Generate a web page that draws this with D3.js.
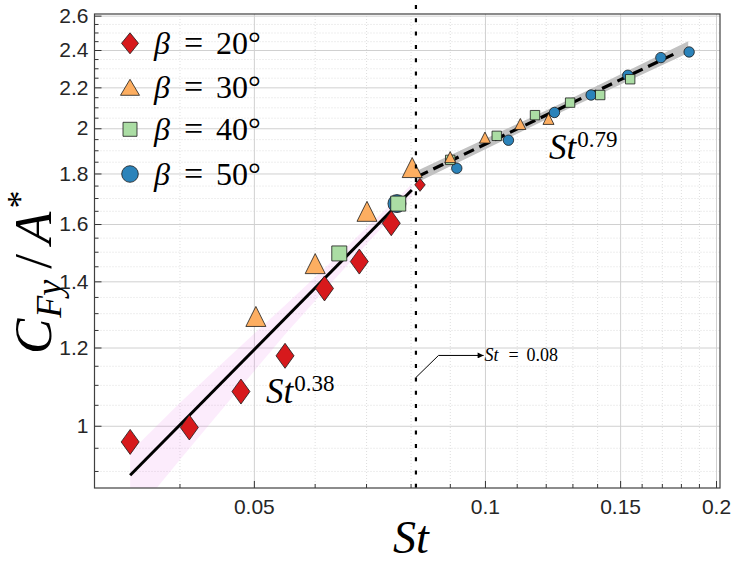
<!DOCTYPE html>
<html>
<head>
<meta charset="utf-8">
<script src="https://cdn.jsdelivr.net/npm/d3@7"></script>
<style>
  html, body { margin: 0; padding: 0; background: #fff; }
  svg { display: block; }
</style>
</head>
<body>
<svg id="chart" width="739" height="564"></svg>
<script>
// ---------------- data ----------------
const st20 = [0.0345, 0.0412, 0.0481, 0.0549, 0.0618, 0.0686, 0.0755, 0.0823];
const cf20 = [0.963, 0.996, 1.083, 1.177, 1.377, 1.466, 1.603, 1.753];
const st30 = [0.0503, 0.0601, 0.0702, 0.0804, 0.0901, 0.1000, 0.1112, 0.1210];
const cf30 = [1.290, 1.459, 1.648, 1.825, 1.870, 1.957, 2.020, 2.044];
const st40 = [0.0646, 0.0771, 0.0901, 0.1036, 0.1162, 0.1291, 0.1413, 0.1546];
const cf40 = [1.494, 1.678, 1.858, 1.965, 2.062, 2.123, 2.161, 2.242];
const st50 = [0.0768, 0.0919, 0.1073, 0.1232, 0.1375, 0.1535, 0.1695, 0.1845];
const cf50 = [1.678, 1.822, 1.945, 2.075, 2.161, 2.263, 2.358, 2.389];

const betaValues = ["20°", "30°", "40°", "50°"];

// fitted power laws (end points) and their confidence bands
const fitLowSt = [0.0345, 0.0803];
const fitLowCf = [0.891, 1.732];
const fitHighSt = [0.0818, 0.1769];
const fitHighCf = [1.788, 2.380];

const bandLowSt = [0.0345, 0.040, 0.047, 0.055, 0.063, 0.071, 0.0803];
const bandLowLo = [0.802, 0.923, 1.072, 1.239, 1.394, 1.543, 1.707];
const bandLowHi = [0.940, 1.054, 1.185, 1.326, 1.464, 1.602, 1.755];
const bandHighSt = [0.0812, 0.125, 0.184];
const bandHighLo = [1.759, 2.072, 2.383];
const bandHighHi = [1.808, 2.115, 2.450];

const stCrit = 0.0813;
const annotSt = [0.0813, 0.0870, 0.0996];
const annotCf = [1.119, 1.178, 1.178];

const xDomain = [0.031, 0.2024];
const yDomain = [0.865, 2.61];
const xMajor = [0.05, 0.1, 0.15, 0.2];
const xMajorLabels = ["0.05", "0.1", "0.15", "0.2"];
const xMinor = [0.04, 0.06, 0.07, 0.08, 0.09, 0.11, 0.12, 0.13, 0.14, 0.16, 0.17, 0.18, 0.19];
const yMajor = [1, 1.2, 1.4, 1.6, 1.8, 2, 2.2, 2.4, 2.6];
const yMajorLabels = ["1", "1.2", "1.4", "1.6", "1.8", "2", "2.2", "2.4", "2.6"];
const yMinor = [0.9, 0.95, 1.05, 1.1, 1.15, 1.25, 1.3, 1.35, 1.45, 1.5, 1.55, 1.65, 1.7, 1.75,
                1.85, 1.9, 1.95, 2.05, 2.1, 2.15, 2.25, 2.3, 2.35, 2.45, 2.5, 2.55];

// ---------------- layout & styles ----------------
const L = 94.5, R = 720, T = 14, B = 488;
const colors = ["#d7191c", "#fdae61", "#abdda4", "#2b83ba"];
const shapes = ["diamond", "triangle", "square", "circle"];
const tickFont = "'Liberation Sans', Arial, sans-serif";
const mathFont = "'Liberation Serif', 'Times New Roman', serif";

const svg = d3.select("#chart");
const x = d3.scaleLog().domain(xDomain).range([L, R]);
const y = d3.scaleLog().domain(yDomain).range([B, T]);

const defs = svg.append("defs");
defs.append("clipPath").attr("id", "clip")
  .append("rect").attr("x", L).attr("y", T).attr("width", R - L).attr("height", B - T);
defs.append("marker").attr("id", "arrow").attr("viewBox", "0 0 10 10")
  .attr("refX", 10).attr("refY", 5).attr("markerWidth", 7).attr("markerHeight", 6)
  .attr("markerUnits", "userSpaceOnUse").attr("orient", "auto")
  .append("path").attr("d", "M0,0 L10,5 L0,10 z").attr("fill", "#000");

// ---------------- grid ----------------
const grid = svg.append("g");
grid.append("g").attr("transform", `translate(0,${B})`)
  .call(d3.axisBottom(x).tickValues(xMinor).tickSize(-(B - T)).tickFormat(""))
  .call(g => g.select(".domain").remove())
  .call(g => g.selectAll("line").attr("stroke", "#d6d6d6").attr("stroke-width", 0.8).attr("stroke-dasharray", "1,2"));
grid.append("g").attr("transform", `translate(${L},0)`)
  .call(d3.axisLeft(y).tickValues(yMinor).tickSize(-(R - L)).tickFormat(""))
  .call(g => g.select(".domain").remove())
  .call(g => g.selectAll("line").attr("stroke", "#d6d6d6").attr("stroke-width", 0.8).attr("stroke-dasharray", "1,2"));
grid.append("g").attr("transform", `translate(0,${B})`)
  .call(d3.axisBottom(x).tickValues(xMajor).tickSize(-(B - T)).tickFormat(""))
  .call(g => g.select(".domain").remove())
  .call(g => g.selectAll("line").attr("stroke", "#d0d0d0").attr("stroke-width", 1));
grid.append("g").attr("transform", `translate(${L},0)`)
  .call(d3.axisLeft(y).tickValues(yMajor).tickSize(-(R - L)).tickFormat(""))
  .call(g => g.select(".domain").remove())
  .call(g => g.selectAll("line").attr("stroke", "#d0d0d0").attr("stroke-width", 1));

// ---------------- bands & fits ----------------
const plot = svg.append("g").attr("clip-path", "url(#clip)");
const area = d3.area().x(d => x(d[0])).y0(d => y(d[1])).y1(d => y(d[2]));
plot.append("path")
  .datum(bandLowSt.map((s, i) => [s, bandLowLo[i], bandLowHi[i]]))
  .attr("d", area).attr("fill", "rgba(238,130,238,0.15)");
plot.append("path")
  .datum(bandHighSt.map((s, i) => [s, bandHighLo[i], bandHighHi[i]]))
  .attr("d", area).attr("fill", "#c2c2c2");

const line = d3.line().x(d => x(d[0])).y(d => y(d[1]));
plot.append("path").datum(fitLowSt.map((s, i) => [s, fitLowCf[i]]))
  .attr("d", line).attr("fill", "none").attr("stroke", "#000").attr("stroke-width", 3);
plot.append("path").datum(fitHighSt.map((s, i) => [s, fitHighCf[i]]))
  .attr("d", line).attr("fill", "none").attr("stroke", "#000").attr("stroke-width", 3.2)
  .attr("stroke-dasharray", "11,6");

// ---------------- markers ----------------
function shapePath(shape, big) {
  if (shape === "diamond") { const w = big ? 9 : 5.2, h = big ? 12.5 : 6.5; return `M0,${-h}L${w},0L0,${h}L${-w},0Z`; }
  if (shape === "triangle") { const s = big ? 10 : 5.5; return `M0,${-s}L${s},${s}L${-s},${s}Z`; }
  if (shape === "square") { const s = big ? 7.5 : 4.7; return `M${-s},${-s}H${s}V${s}H${-s}Z`; }
  const r = big ? 9 : 5.2; return `M${r},0A${r},${r} 0 1,1 ${-r},0A${r},${r} 0 1,1 ${r},0Z`;
}
function legendPath(shape) {
  if (shape === "diamond") return "M0,-10.5L8.5,0L0,10.5L-8.5,0Z";
  if (shape === "triangle") return "M0,-8L9.5,8L-9.5,8Z";
  if (shape === "square") return "M-7,-7H7V7H-7Z";
  return "M8.3,0A8.3,8.3 0 1,1 -8.3,0A8.3,8.3 0 1,1 8.3,0Z";
}
const allSt = [st20, st30, st40, st50];
const allCf = [cf20, cf30, cf40, cf50];
const drawOrder = [3, 2, 1, 0];
const markers = svg.append("g");
drawOrder.forEach(k => {
  markers.append("g").selectAll("path")
    .data(allSt[k].map((s, i) => [s, allCf[k][i]]))
    .join("path")
    .attr("transform", d => `translate(${x(d[0])},${y(d[1])})`)
    .attr("d", d => shapePath(shapes[k], d[0] < stCrit))
    .attr("fill", colors[k]).attr("stroke", "#1a1a1a").attr("stroke-width", 0.8);
});

// ---------------- critical St line & annotation ----------------
svg.append("line").attr("x1", x(stCrit)).attr("x2", x(stCrit)).attr("y1", 5).attr("y2", B)
  .attr("stroke", "#000").attr("stroke-width", 2.2).attr("stroke-dasharray", "4,9.3");
svg.append("path").datum(annotSt.map((s, i) => [s, annotCf[i]]))
  .attr("d", line).attr("fill", "none").attr("stroke", "#000").attr("stroke-width", 1)
  .attr("marker-end", "url(#arrow)");
{
  const ax0 = x(annotSt[2]) + 1, ay0 = y(annotCf[2]) + 6;
  const at = svg.append("text").attr("y", ay0).attr("font-family", mathFont).attr("font-size", 18);
  at.append("tspan").attr("x", ax0).attr("font-style", "italic").text("St");
  at.append("tspan").attr("x", ax0 + 24).text("=");
  at.append("tspan").attr("x", ax0 + 42).text("0.08");
}

// ---------------- frame & axes ----------------
const ax = svg.append("g");
ax.append("g").attr("transform", `translate(0,${B})`)
  .call(d3.axisBottom(x).tickValues(xMinor).tickSize(-4).tickFormat(""))
  .call(g => g.select(".domain").remove());
ax.append("g").attr("transform", `translate(0,${B})`)
  .call(d3.axisBottom(x).tickValues(xMajor).tickSize(-7).tickPadding(11)
    .tickFormat((d, i) => xMajorLabels[i]))
  .call(g => g.select(".domain").remove());
ax.append("g").attr("transform", `translate(${L},0)`)
  .call(d3.axisLeft(y).tickValues(yMinor).tickSize(-4).tickFormat(""))
  .call(g => g.select(".domain").remove());
ax.append("g").attr("transform", `translate(${L},0)`)
  .call(d3.axisLeft(y).tickValues(yMajor).tickSize(-7).tickPadding(6)
    .tickFormat((d, i) => yMajorLabels[i]))
  .call(g => g.select(".domain").remove());
ax.selectAll("line").attr("stroke", "#333").attr("stroke-width", 1);
ax.selectAll("text").attr("font-family", tickFont).attr("font-size", 21).attr("fill", "#262626");
svg.append("rect").attr("x", L).attr("y", T).attr("width", R - L).attr("height", B - T)
  .attr("fill", "none").attr("stroke", "#404040").attr("stroke-width", 1.2);

// ---------------- fit labels ----------------
function powerLabel(px, py, exp) {
  const t = svg.append("text").attr("x", px).attr("y", py)
    .attr("font-family", mathFont).attr("font-size", 35);
  t.append("tspan").attr("font-style", "italic").text("St");
  t.append("tspan").attr("font-size", 23).attr("dx", 1).attr("dy", -12).text(exp);
}
powerLabel(266, 403, "0.38");
powerLabel(549, 159, "0.79");

// ---------------- legend ----------------
const legY = [43.3, 87.3, 129.3, 174];
const leg = svg.append("g");
betaValues.forEach((val, k) => {
  leg.append("path").attr("transform", `translate(130,${legY[k]})`).attr("d", legendPath(shapes[k]))
    .attr("fill", colors[k]).attr("stroke", "#1a1a1a").attr("stroke-width", 0.8);
  const t = leg.append("text").attr("y", legY[k] + 10.5)
    .attr("font-family", mathFont).attr("font-size", 32);
  t.append("tspan").attr("x", 154).attr("font-style", "italic").text("β");
  t.append("tspan").attr("x", 184).attr("font-size", 34).text("=");
  t.append("tspan").attr("x", 216).text(val);
});

// ---------------- axis titles ----------------
svg.append("text").attr("x", 411).attr("y", 553).attr("text-anchor", "middle")
  .attr("font-family", mathFont).attr("font-size", 46).attr("font-style", "italic").text("St");
const yl = svg.append("text").attr("transform", "translate(51,354) rotate(-90)")
  .attr("text-anchor", "start").attr("font-family", mathFont).attr("font-size", 53);
yl.append("tspan").attr("font-style", "italic").text("C");
yl.append("tspan").attr("font-style", "italic").attr("font-size", 36).attr("dx", 1).attr("dy", 10).text("Fy");
yl.append("tspan").attr("dx", 11).attr("dy", -10).text("/");
yl.append("tspan").attr("font-style", "italic").attr("dx", 10).text("A");
yl.append("tspan").attr("font-size", 36).attr("dx", 3).attr("dy", -19).text("*");
</script>
</body>
</html>
